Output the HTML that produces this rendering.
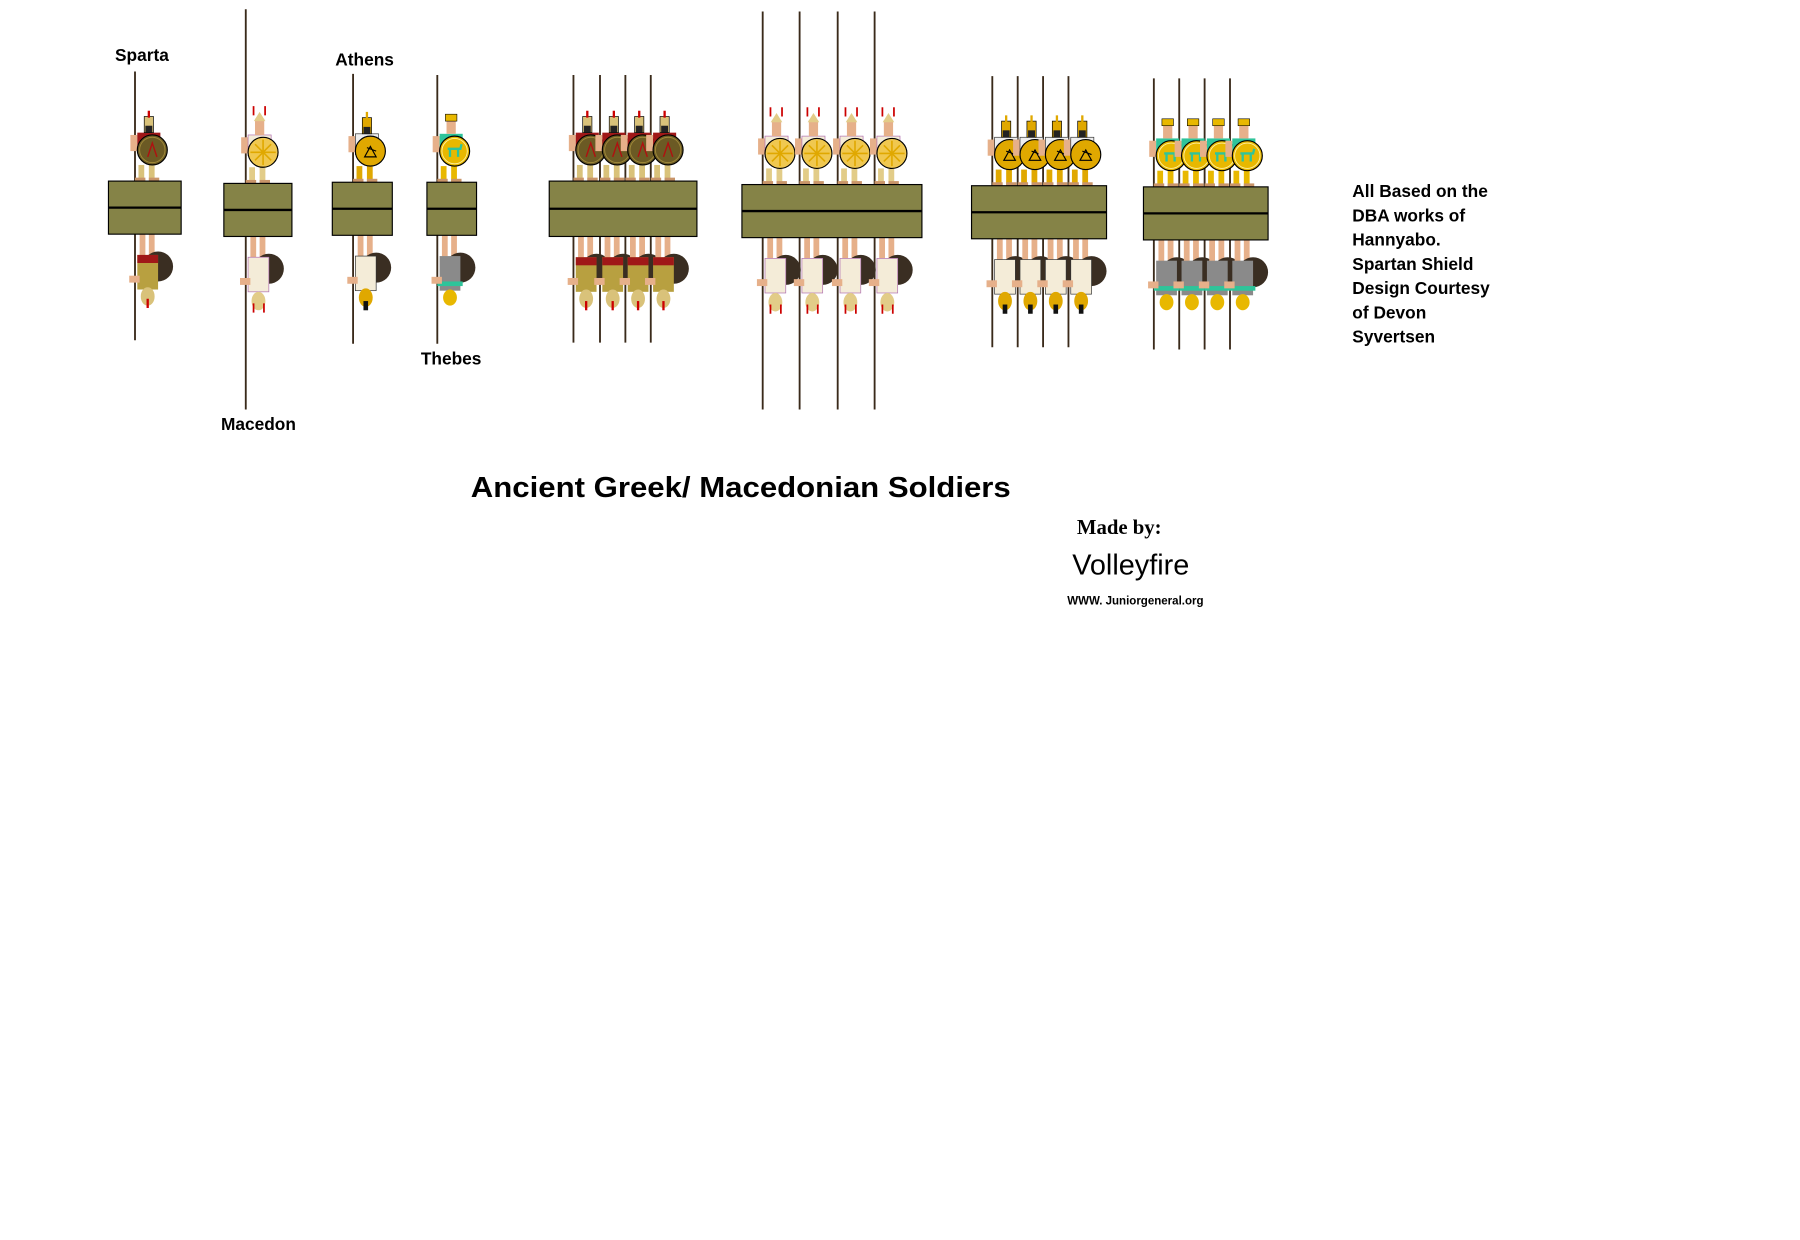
<!DOCTYPE html>
<html><head><meta charset="utf-8"><style>
html,body{margin:0;padding:0;background:#fff;}
svg{display:block;}
</style></head><body>
<svg width="1800" height="1240" viewBox="0 0 1560 1075" preserveAspectRatio="none" xmlns="http://www.w3.org/2000/svg">
<defs>
  <g id="uS">
    <rect x="3" y="-14" width="5" height="14" fill="#d9c27a"/><rect x="12" y="-14" width="5" height="14" fill="#d9c27a"/>
    <rect x="0" y="-3" width="9" height="3" fill="#c9956a"/><rect x="12" y="-3" width="9" height="3" fill="#c9956a"/>
    <rect x="-4" y="-40" width="6" height="14" fill="#e6b08a"/>
    <rect x="2" y="-42" width="20" height="18" fill="#a01818"/>
    <rect x="8" y="-56" width="8" height="14" fill="#d9c27a" stroke="#000" stroke-width="0.6"/>
    <rect x="9" y="-48" width="6" height="6" fill="#222"/>
    <rect x="11" y="-61" width="2" height="6" fill="#c00"/>
    <circle cx="15" cy="-27" r="13" fill="#6b5a24" stroke="#000" stroke-width="1"/>
    <circle cx="15" cy="-27" r="11" fill="none" stroke="#a08a3a" stroke-width="0.8"/>
    <path d="M11 -21 L15 -33 L19 -21" fill="none" stroke="#b01010" stroke-width="1.2"/>
  </g>
  <g id="uM">
    <rect x="3" y="-14" width="5" height="14" fill="#e2cc88"/><rect x="12" y="-14" width="5" height="14" fill="#e2cc88"/>
    <rect x="0" y="-3" width="9" height="3" fill="#c9956a"/><rect x="12" y="-3" width="9" height="3" fill="#c9956a"/>
    <rect x="-4" y="-40" width="6" height="14" fill="#e6b08a"/>
    <rect x="2" y="-42" width="20" height="18" fill="#f4ecd8" stroke="#b070b0" stroke-width="0.6"/>
    <rect x="8" y="-56" width="8" height="14" fill="#e6b08a"/>
    <path d="M7 -54 L12 -62 L17 -54 Z" fill="#e2cc88"/>
    <rect x="6" y="-67" width="1.5" height="8" fill="#c00"/><rect x="16" y="-67" width="1.5" height="8" fill="#c00"/>
    <circle cx="15" cy="-27" r="13" fill="#f0c850" stroke="#000" stroke-width="1"/>
    <g stroke="#e0a800" stroke-width="1.4"><line x1="15" y1="-38" x2="15" y2="-16"/><line x1="4" y1="-27" x2="26" y2="-27"/><line x1="8" y1="-34" x2="22" y2="-20"/><line x1="22" y1="-34" x2="8" y2="-20"/></g>
  </g>
  <g id="uA">
    <rect x="3" y="-14" width="5" height="14" fill="#e0a800"/><rect x="12" y="-14" width="5" height="14" fill="#e0a800"/>
    <rect x="0" y="-3" width="9" height="3" fill="#c9956a"/><rect x="12" y="-3" width="9" height="3" fill="#c9956a"/>
    <rect x="-4" y="-40" width="6" height="14" fill="#e6b08a"/>
    <rect x="2" y="-42" width="20" height="18" fill="#eee" stroke="#333" stroke-width="0.6"/>
    <rect x="8" y="-56" width="8" height="14" fill="#e0a800" stroke="#000" stroke-width="0.6"/>
    <rect x="9" y="-48" width="6" height="6" fill="#222"/>
    <rect x="11" y="-61" width="2" height="6" fill="#e0a800"/>
    <circle cx="15" cy="-27" r="13" fill="#e0a800" stroke="#000" stroke-width="1"/>
    <path d="M10 -22 L20 -22 L15 -31 Z M12 -30 L20 -27" fill="none" stroke="#000" stroke-width="1"/>
  </g>
  <g id="uT">
    <rect x="3" y="-14" width="5" height="14" fill="#e8b800"/><rect x="12" y="-14" width="5" height="14" fill="#e8b800"/>
    <rect x="0" y="-3" width="9" height="3" fill="#c9956a"/><rect x="12" y="-3" width="9" height="3" fill="#c9956a"/>
    <rect x="-4" y="-40" width="6" height="14" fill="#e6b08a"/>
    <rect x="2" y="-42" width="20" height="18" fill="#2ec49a"/>
    <rect x="8" y="-54" width="8" height="12" fill="#e6b08a"/>
    <rect x="7" y="-59" width="10" height="6" fill="#e8b800" stroke="#000" stroke-width="0.5"/>
    <circle cx="15" cy="-27" r="13" fill="#e8b800" stroke="#000" stroke-width="1"/>
    <circle cx="15" cy="-27" r="11" fill="none" stroke="#fff0a0" stroke-width="0.8"/>
    <path d="M9 -29 L20 -29 L21 -33 M11 -29 L11 -22 M18 -29 L18 -22" fill="none" stroke="#2ec49a" stroke-width="2"/>
  </g>
  <g id="lS">
    <rect x="4" y="0" width="5" height="20" fill="#e6b08a"/><rect x="12" y="0" width="5" height="20" fill="#e6b08a"/>
    <circle cx="20" cy="28" r="13" fill="#3a2e22"/>
    <rect x="2" y="18" width="18" height="30" fill="#b8a040"/>
    <rect x="2" y="18" width="18" height="7" fill="#a01818"/>
    <rect x="-5" y="36" width="9" height="6" fill="#e6b08a"/>
    <ellipse cx="11" cy="54" rx="6" ry="8" fill="#d9c27a"/>
    <rect x="10" y="56" width="2" height="8" fill="#c00"/>
  </g>
  <g id="lM">
    <rect x="4" y="0" width="5" height="20" fill="#e6b08a"/><rect x="12" y="0" width="5" height="20" fill="#e6b08a"/>
    <circle cx="20" cy="28" r="13" fill="#3a2e22"/>
    <rect x="2" y="18" width="18" height="30" fill="#f4ecd8" stroke="#b070b0" stroke-width="0.6"/>
    <rect x="-5" y="36" width="9" height="6" fill="#e6b08a"/>
    <ellipse cx="11" cy="56" rx="6" ry="8" fill="#e2cc88"/>
    <rect x="6" y="58" width="1.5" height="8" fill="#c00"/><rect x="15" y="58" width="1.5" height="8" fill="#c00"/>
  </g>
  <g id="lA">
    <rect x="4" y="0" width="5" height="20" fill="#e6b08a"/><rect x="12" y="0" width="5" height="20" fill="#e6b08a"/>
    <circle cx="20" cy="28" r="13" fill="#3a2e22"/>
    <rect x="2" y="18" width="18" height="30" fill="#f4ecd8" stroke="#333" stroke-width="0.6"/>
    <rect x="-5" y="36" width="9" height="6" fill="#e6b08a"/>
    <ellipse cx="11" cy="54" rx="6" ry="8" fill="#e0a800"/>
    <rect x="9" y="57" width="4" height="8" fill="#111"/>
  </g>
  <g id="lT">
    <rect x="4" y="0" width="5" height="20" fill="#e6b08a"/><rect x="12" y="0" width="5" height="20" fill="#e6b08a"/>
    <circle cx="20" cy="28" r="13" fill="#3a2e22"/>
    <rect x="2" y="18" width="18" height="30" fill="#8a8a8a"/>
    <rect x="0" y="40" width="22" height="4" fill="#2ec49a"/>
    <rect x="-5" y="36" width="9" height="6" fill="#e6b08a"/>
    <ellipse cx="11" cy="54" rx="6" ry="7" fill="#e8b800"/>
  </g>
</defs>

<g font-family="Liberation Sans, Arial, sans-serif" font-weight="bold" fill="#000">
  <g stroke="#3a2a1a" stroke-width="1.6">
    <line x1="117" y1="62" x2="117" y2="295"/>
    <line x1="213" y1="8" x2="213" y2="355"/>
    <line x1="306" y1="64" x2="306" y2="298"/>
    <line x1="379" y1="65" x2="379" y2="298"/>
    <line x1="497" y1="65" x2="497" y2="297"/><line x1="520" y1="65" x2="520" y2="297"/><line x1="542" y1="65" x2="542" y2="297"/><line x1="564" y1="65" x2="564" y2="297"/>
    <line x1="661" y1="10" x2="661" y2="355"/><line x1="693" y1="10" x2="693" y2="355"/><line x1="726" y1="10" x2="726" y2="355"/><line x1="758" y1="10" x2="758" y2="355"/>
    <line x1="860" y1="66" x2="860" y2="301"/><line x1="882" y1="66" x2="882" y2="301"/><line x1="904" y1="66" x2="904" y2="301"/><line x1="926" y1="66" x2="926" y2="301"/>
    <line x1="1000" y1="68" x2="1000" y2="303"/><line x1="1022" y1="68" x2="1022" y2="303"/><line x1="1044" y1="68" x2="1044" y2="303"/><line x1="1066" y1="68" x2="1066" y2="303"/>
  </g>

  <use href="#uS" x="117" y="157"/><use href="#lS" x="117" y="203"/>
  <rect x="94" y="157" width="63" height="46" fill="#858347" stroke="#000"/><line x1="94" y1="180" x2="157" y2="180" stroke="#000" stroke-width="2"/>
  <use href="#uM" x="213" y="159"/><use href="#lM" x="213" y="205"/>
  <rect x="194" y="159" width="59" height="46" fill="#858347" stroke="#000"/><line x1="194" y1="182" x2="253" y2="182" stroke="#000" stroke-width="2"/>
  <use href="#uA" x="306" y="158"/><use href="#lA" x="306" y="204"/>
  <rect x="288" y="158" width="52" height="46" fill="#858347" stroke="#000"/><line x1="288" y1="181" x2="340" y2="181" stroke="#000" stroke-width="2"/>
  <use href="#uT" x="379" y="158"/><use href="#lT" x="379" y="204"/>
  <rect x="370" y="158" width="43" height="46" fill="#858347" stroke="#000"/><line x1="370" y1="181" x2="413" y2="181" stroke="#000" stroke-width="2"/>

  <use href="#uS" x="497" y="157"/><use href="#uS" x="520" y="157"/><use href="#uS" x="542" y="157"/><use href="#uS" x="564" y="157"/>
  <use href="#lS" x="497" y="205"/><use href="#lS" x="520" y="205"/><use href="#lS" x="542" y="205"/><use href="#lS" x="564" y="205"/>
  <rect x="476" y="157" width="128" height="48" fill="#858347" stroke="#000"/><line x1="476" y1="181" x2="604" y2="181" stroke="#000" stroke-width="2"/>

  <use href="#uM" x="661" y="160"/><use href="#uM" x="693" y="160"/><use href="#uM" x="726" y="160"/><use href="#uM" x="758" y="160"/>
  <use href="#lM" x="661" y="206"/><use href="#lM" x="693" y="206"/><use href="#lM" x="726" y="206"/><use href="#lM" x="758" y="206"/>
  <rect x="643" y="160" width="156" height="46" fill="#858347" stroke="#000"/><line x1="643" y1="183" x2="799" y2="183" stroke="#000" stroke-width="2"/>

  <use href="#uA" x="860" y="161"/><use href="#uA" x="882" y="161"/><use href="#uA" x="904" y="161"/><use href="#uA" x="926" y="161"/>
  <use href="#lA" x="860" y="207"/><use href="#lA" x="882" y="207"/><use href="#lA" x="904" y="207"/><use href="#lA" x="926" y="207"/>
  <rect x="842" y="161" width="117" height="46" fill="#858347" stroke="#000"/><line x1="842" y1="184" x2="959" y2="184" stroke="#000" stroke-width="2"/>

  <use href="#uT" x="1000" y="162"/><use href="#uT" x="1022" y="162"/><use href="#uT" x="1044" y="162"/><use href="#uT" x="1066" y="162"/>
  <use href="#lT" x="1000" y="208"/><use href="#lT" x="1022" y="208"/><use href="#lT" x="1044" y="208"/><use href="#lT" x="1066" y="208"/>
  <rect x="991" y="162" width="108" height="46" fill="#858347" stroke="#000"/><line x1="991" y1="185" x2="1099" y2="185" stroke="#000" stroke-width="2"/>

  <text x="123" y="53" font-size="15" text-anchor="middle">Sparta</text>
  <text x="316" y="57" font-size="15" text-anchor="middle">Athens</text>
  <text x="391" y="316" font-size="15" text-anchor="middle">Thebes</text>
  <text x="224" y="373" font-size="15" text-anchor="middle">Macedon</text>

  <g font-size="15">
    <text x="1172" y="171">All Based on the</text>
    <text x="1172" y="192">DBA works of</text>
    <text x="1172" y="213">Hannyabo.</text>
    <text x="1172" y="234">Spartan Shield</text>
    <text x="1172" y="255">Design Courtesy</text>
    <text x="1172" y="276">of Devon</text>
    <text x="1172" y="297">Syvertsen</text>
  </g>

  <text x="408" y="431" font-size="25" textLength="468" lengthAdjust="spacingAndGlyphs">Ancient Greek/ Macedonian Soldiers</text>
  <text x="970" y="463" font-size="18" font-family="Liberation Serif, serif" text-anchor="middle">Made by:</text>
  <text x="980" y="498" font-size="25" font-weight="normal" text-anchor="middle">Volleyfire</text>
  <text x="984" y="524" font-size="10" text-anchor="middle">WWW. Juniorgeneral.org</text>
</g>
</svg>
</body></html>
